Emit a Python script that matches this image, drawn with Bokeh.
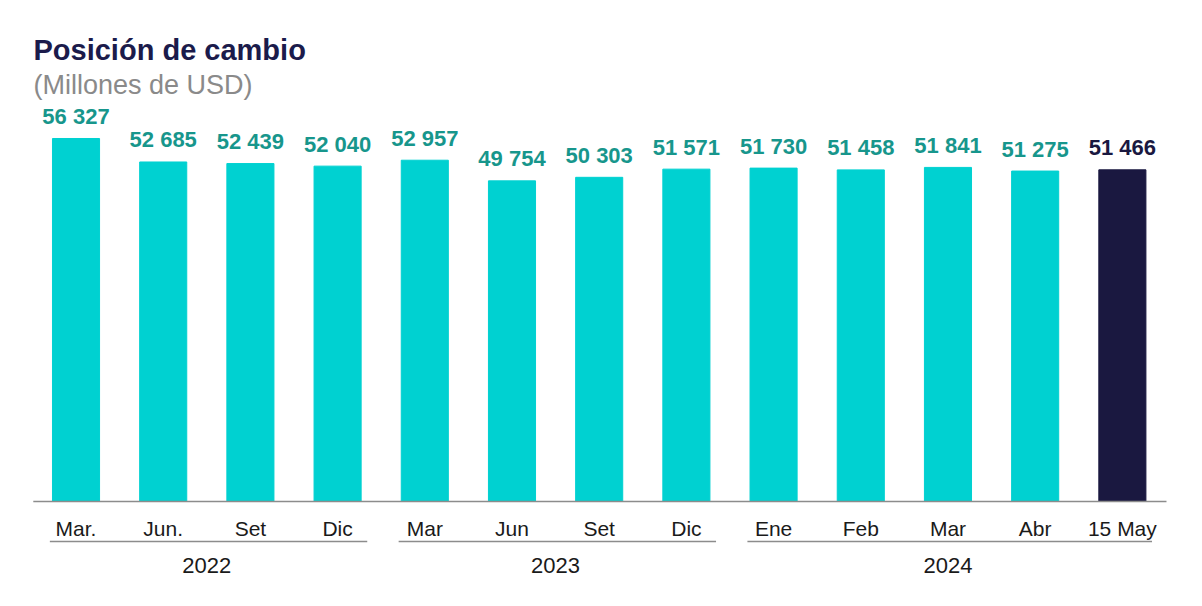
from bokeh.plotting import figure
from bokeh.models import ColumnDataSource, Label, Range1d
from bokeh.core.properties import value
from bokeh.embed import file_html
from bokeh.resources import INLINE

months = ["Mar.", "Jun.", "Set", "Dic", "Mar", "Jun", "Set", "Dic",
          "Ene", "Feb", "Mar", "Abr", "15 May"]
values = [56327, 52685, 52439, 52040, 52957, 49754, 50303, 51571,
          51730, 51458, 51841, 51275, 51466]
labels = ["56 327", "52 685", "52 439", "52 040", "52 957", "49 754", "50 303",
          "51 571", "51 730", "51 458", "51 841", "51 275", "51 466"]
years = ["2022", "2023", "2024"]
year_groups = [(0, 3), (4, 7), (8, 12)]

BAR = "#00D1D1"
LAST = "#1A1840"
LBL = "#17968C"
FONT = "Liberation Sans"

W, H = 1202, 606
n = len(values)
xs = list(range(n))
colors = [BAR] * (n - 1) + [LAST]
lcolors = [LBL] * (n - 1) + [LAST]
px_unit = 155.17

src = ColumnDataSource(dict(x=xs, top=values, lab=labels, col=colors, lcol=lcolors,
                            m=months, my=[-27 * px_unit] * n))

p = figure(width=W, height=H, output_backend="svg", toolbar_location=None,
           x_range=Range1d(-0.866, 12.919), y_range=Range1d(-105 * px_unit, 501 * px_unit),
           min_border=0)
p.axis.visible = False
p.grid.visible = False
p.outline_line_color = None
p.background_fill_color = "white"
p.border_fill_color = "white"

p.vbar(x="x", top="top", bottom=0, width=0.54, color="col", source=src)

# baseline
p.segment(x0=[-0.49], y0=[0], x1=[n - 1 + 0.506], y1=[0], line_color="#8C8C8C",
          line_width=1.5)

p.text(x="x", y="top", text="lab", source=src, text_color="lcol",
       text_font=value(FONT), text_font_style="bold", text_font_size="22px",
       text_align="center", text_baseline="alphabetic", y_offset=-22)

# month labels
p.text(x="x", y="my", text="m", source=src, text_color="#1a1a1a",
       text_font=value(FONT), text_font_size="21px", text_align="center",
       text_baseline="alphabetic")

# group lines and year labels
gx0 = [a - 0.3 for a, b in year_groups]
gx1 = [b + 0.34 for a, b in year_groups]
p.segment(x0=gx0, y0=[-40 * px_unit] * 3, x1=gx1, y1=[-40 * px_unit] * 3,
          line_color="#8C8C8C", line_width=1.5)
p.text(x=[(a + b) / 2 for a, b in year_groups], y=[-64 * px_unit] * 3, text=years,
       text_color="#1a1a1a", text_font=value(FONT), text_font_size="22px",
       text_align="center", text_baseline="alphabetic")

p.add_layout(Label(x=33, y=H - 49, x_units="screen", y_units="screen",
                   text="Posición de cambio", text_font=FONT, text_font_style="bold",
                   text_font_size="29px", text_color="#1B1B4B",
                   text_baseline="alphabetic"))
p.add_layout(Label(x=33, y=H - 84, x_units="screen", y_units="screen",
                   text="(Millones de USD)", text_font=FONT,
                   text_font_size="27px", text_color="#8A8A8A",
                   text_baseline="alphabetic"))

open("out.html", "w").write(file_html(p, INLINE))
